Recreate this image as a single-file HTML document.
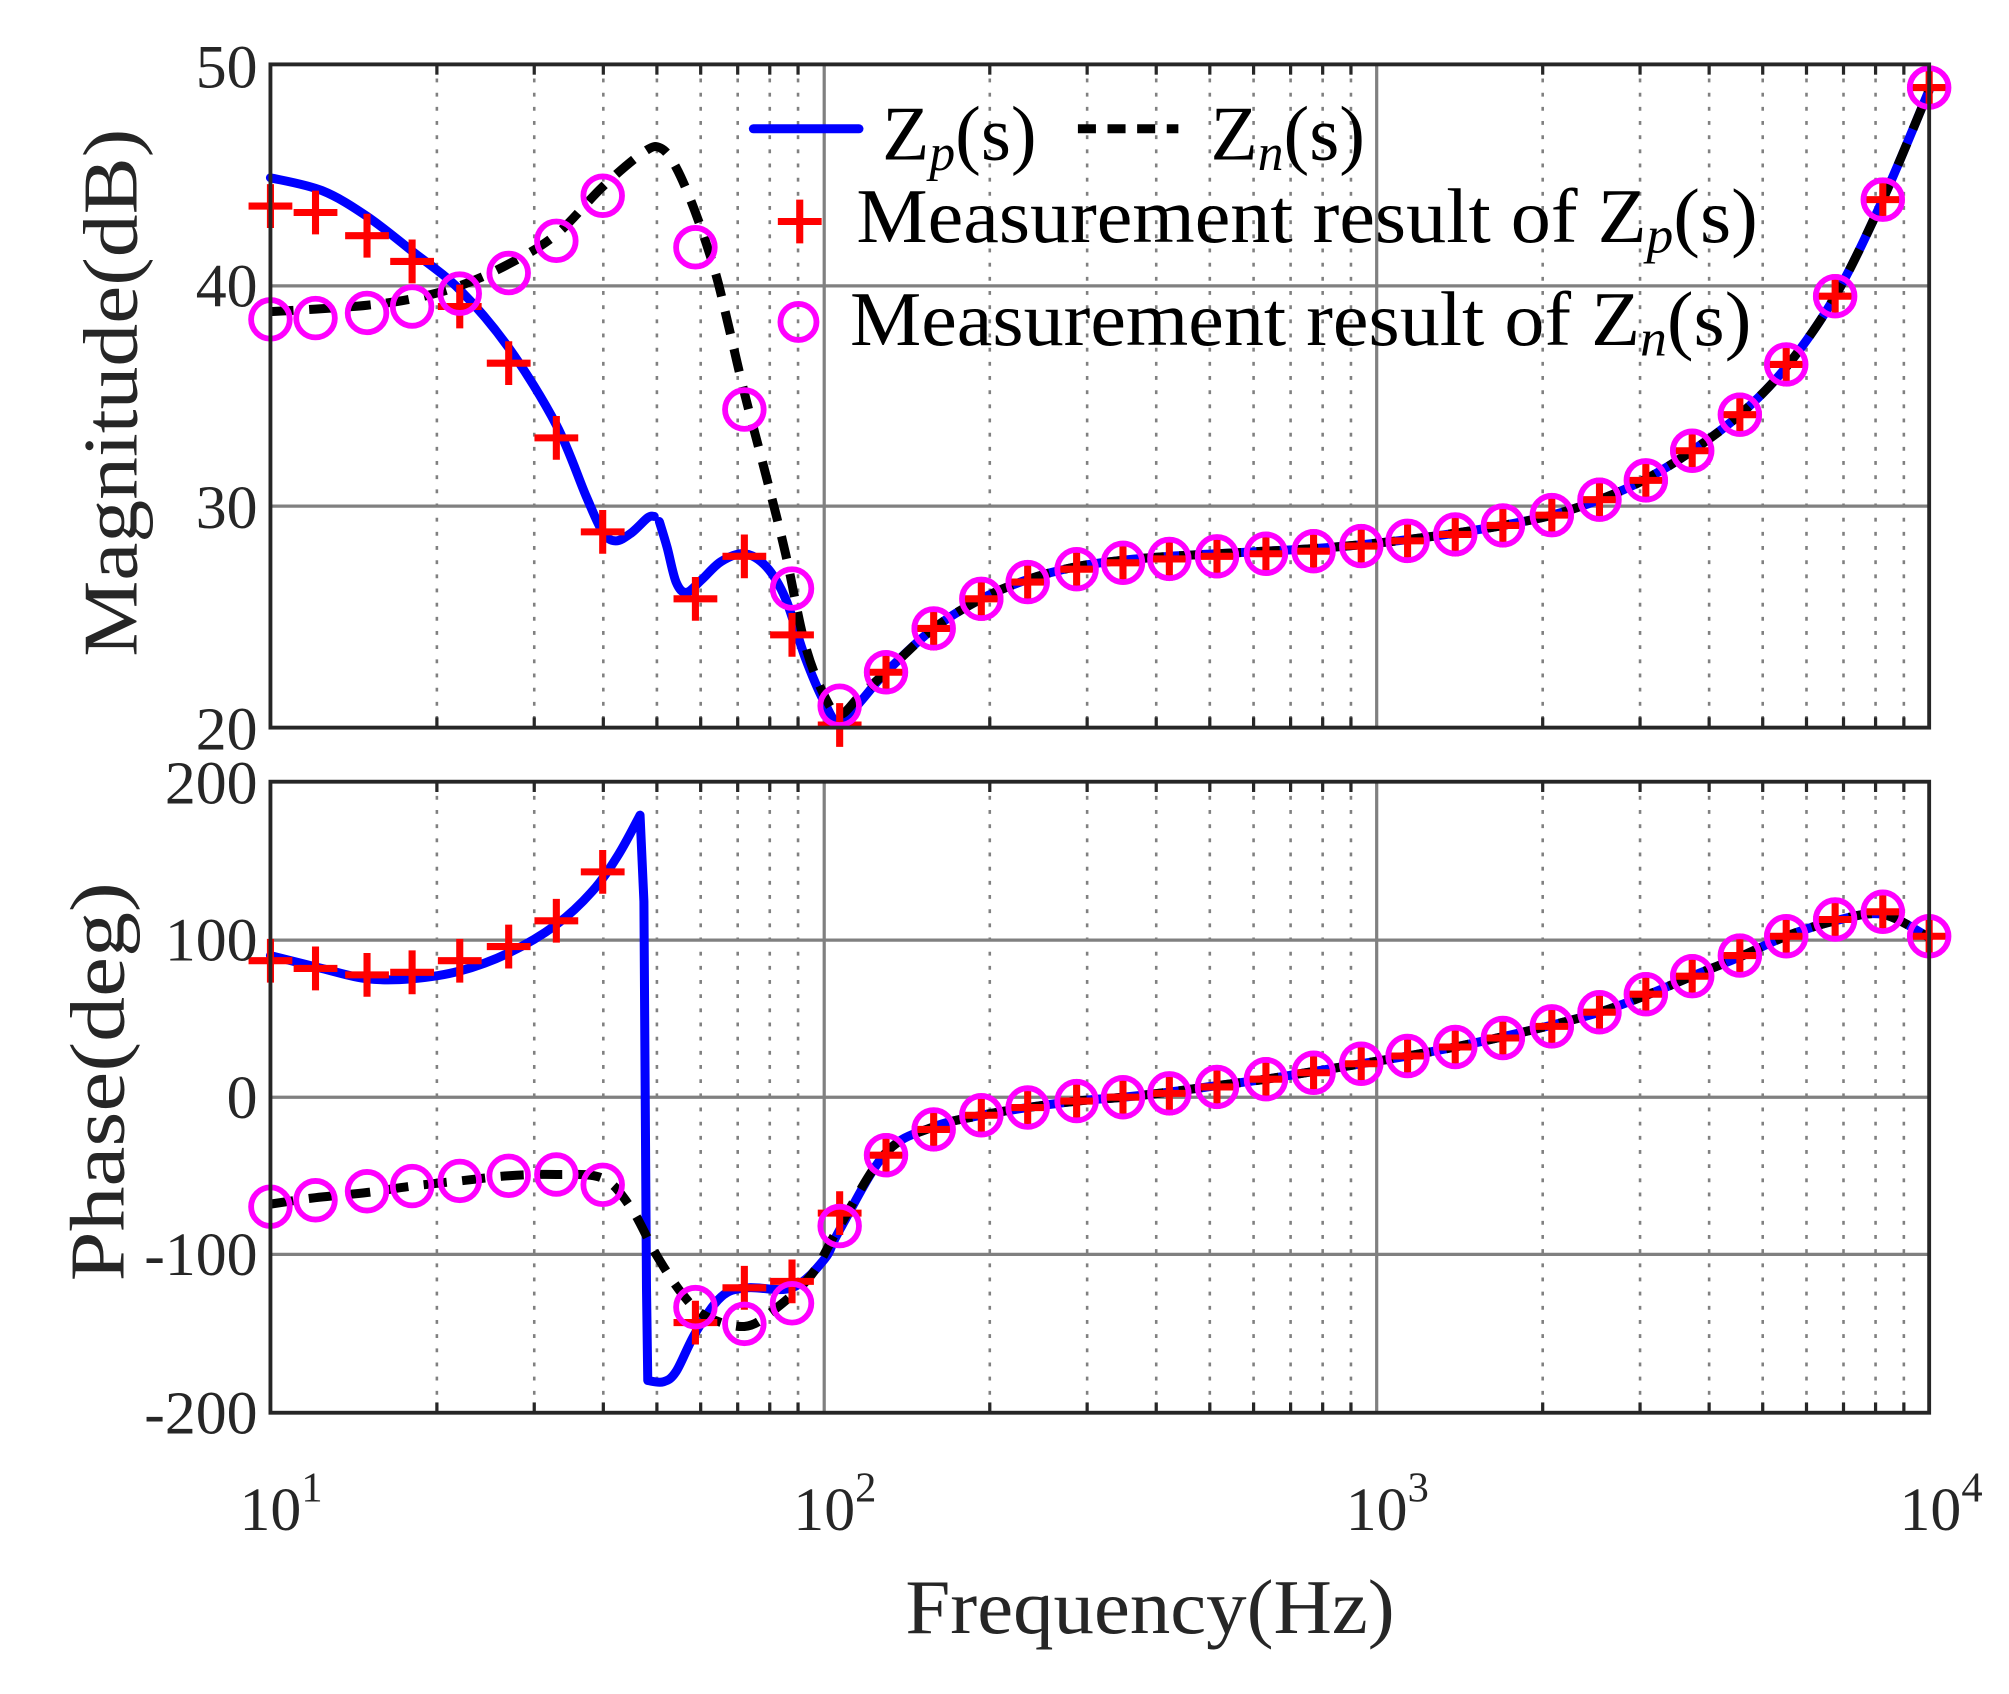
<!DOCTYPE html>
<html><head><meta charset="utf-8"><style>html,body{margin:0;padding:0;background:#fff}svg{display:block}</style></head>
<body>
<svg id="s" width="2009" height="1694" viewBox="0 0 1560 1315.4" xmlns="http://www.w3.org/2000/svg" font-family="'Liberation Serif',serif">
<rect width="1560" height="1316" fill="#fff"/>
<g id="grid"></g>
<g id="curves"></g>
<g id="frame" fill="none" stroke="#262626" stroke-width="3">
<rect x="210" y="50" width="1288" height="515"/>
<rect x="210" y="607" width="1288" height="490"/>
</g>
<g fill="#262626" font-size="48" text-anchor="end">
<text x="200" y="68">50</text><text x="200" y="238">40</text><text x="200" y="410">30</text><text x="200" y="582">20</text>
<text x="200" y="624">200</text><text x="200" y="746">100</text><text x="200" y="868">0</text><text x="200" y="990">-100</text><text x="200" y="1113">-200</text>
</g>
<g fill="#262626" font-size="48">
<text x="186" y="1188">10<tspan dy="-22" font-size="33">1</tspan></text>
<text x="616" y="1188">10<tspan dy="-22" font-size="33">2</tspan></text>
<text x="1045" y="1188">10<tspan dy="-22" font-size="33">3</tspan></text>
<text x="1475" y="1188">10<tspan dy="-22" font-size="33">4</tspan></text>
</g>
<text x="893" y="1268" font-size="60" fill="#262626" text-anchor="middle" textLength="380" lengthAdjust="spacingAndGlyphs">Frequency(Hz)</text>
<text transform="translate(106,305) rotate(-90)" font-size="60" fill="#262626" text-anchor="middle" textLength="410" lengthAdjust="spacingAndGlyphs">Magnitude(dB)</text>
<text transform="translate(96,840) rotate(-90)" font-size="60" fill="#262626" text-anchor="middle" textLength="310" lengthAdjust="spacingAndGlyphs">Phase(deg)</text>
<g id="legend">
<line x1="585" y1="100" x2="667" y2="100" stroke="#0000ff" stroke-width="7" stroke-linecap="round"/>
<line x1="837" y1="100" x2="915" y2="100" stroke="#000" stroke-width="7" stroke-dasharray="14,9"/>
<text x="685" y="124" font-size="60" fill="#000">Z<tspan font-style="italic" font-size="40" dy="8">p</tspan><tspan dy="-8">(s)</tspan></text>
<text x="940" y="124" font-size="60" fill="#000">Z<tspan font-style="italic" font-size="40" dy="8">n</tspan><tspan dy="-8">(s)</tspan></text>
<g stroke="#ff0000" stroke-width="5.5"><line x1="604" y1="172" x2="638" y2="172"/><line x1="621" y1="155" x2="621" y2="189"/></g>
<circle cx="620" cy="250" r="14" fill="none" stroke="#ff00ff" stroke-width="4.5"/>
<text x="665" y="188" font-size="60" fill="#000" textLength="700" lengthAdjust="spacingAndGlyphs">Measurement result of Z<tspan font-style="italic" font-size="40" dy="8">p</tspan><tspan dy="-8">(s)</tspan></text>
<text x="660" y="268" font-size="60" fill="#000" textLength="700" lengthAdjust="spacingAndGlyphs">Measurement result of Z<tspan font-style="italic" font-size="40" dy="8">n</tspan><tspan dy="-8">(s)</tspan></text>
</g>
</svg>
<script>
var NS="http://www.w3.org/2000/svg";
function el(p,t,a){var e=document.createElementNS(NS,t);for(var k in a)e.setAttribute(k,a[k]);p.appendChild(e);return e;}
var g=document.getElementById('grid');
var L=210,R=1498,D=(R-L)/3;
[[50,565],[607,1097]].forEach(function(p){
 for(var d=0;d<3;d++){for(var m=2;m<=9;m++){var x=L+D*(d+Math.log10(m));
  el(g,'line',{x1:x,y1:p[0],x2:x,y2:p[1],stroke:'#808080','stroke-width':2,'stroke-dasharray':'3,8'});
  el(g,'line',{x1:x,y1:p[1],x2:x,y2:p[1]-8,stroke:'#262626','stroke-width':2.5});
  el(g,'line',{x1:x,y1:p[0],x2:x,y2:p[0]+8,stroke:'#262626','stroke-width':2.5});}}
 [640,1069].forEach(function(x){el(g,'line',{x1:x,y1:p[0],x2:x,y2:p[1],stroke:'#808080','stroke-width':2.5});});
});
[222,393,730,852,974].forEach(function(y){el(g,'line',{x1:L,y1:y,x2:R,y2:y,stroke:'#808080','stroke-width':2.5});});
function path(pts){var d='M'+pts[0][0]+','+pts[0][1];
 for(var i=0;i<pts.length-1;i++){var p0=pts[Math.max(0,i-1)],p1=pts[i],p2=pts[i+1],p3=pts[Math.min(pts.length-1,i+2)];
  var c1=[p1[0]+(p2[0]-p0[0])/6,p1[1]+(p2[1]-p0[1])/6],c2=[p2[0]-(p3[0]-p1[0])/6,p2[1]-(p3[1]-p1[1])/6];
  d+=' C'+c1+' '+c2+' '+p2;}return d;}
var tailM=[[688,522],[725,488],[762,465],[798,450],[836,440],[872,435],[908,432],[945,430],[983,428],[1020,426],[1057,423],[1093,419],[1130,414],[1167,408],[1205,400],[1242,388],[1278,372],[1314,350],[1351,322],[1387,285],[1425,230],[1462,155],[1498,70]];
var blueM=[[210,138],[250,148],[285,168],[320,195],[357,225],[395,270],[432,330],[455,385],[468,413],[478,420],[490,414],[503,402],[508,401]];
var blueM2=[[512,405],[518,425],[525,452],[533,460],[545,450],[560,436],[578,430],[595,440],[610,465],[625,510],[640,545],[652,562],[668,545]].concat(tailM);
var blackM=[[210,242],[245,240],[285,237],[320,232],[357,222],[395,205],[432,182],[468,145],[500,118],[513,115],[525,130],[540,165],[555,210],[565,250],[578,305],[595,370],[610,430],[625,500],[640,540],[652,555],[668,540]].concat(tailM);
var tailP=[[688,895],[725,875],[762,866],[798,860],[836,855],[872,852],[908,848],[945,843],[983,838],[1020,832],[1057,826],[1093,820],[1130,813],[1167,805],[1205,796],[1242,786],[1278,773],[1314,758],[1351,743],[1387,727],[1425,715],[1462,710],[1498,728]];
var blueP1=[[210,742],[250,752],[285,760],[320,760],[357,754],[395,740],[432,718],[460,692],[480,664],[497,633]];
var blueP2=[[503,1072],[515,1073],[525,1065],[540,1035],[560,1007],[580,1000],[615,1000],[640,978],[652,955]].concat(tailP);
var blackP=[[210,935],[245,930],[285,926],[320,921],[357,917],[395,913],[432,912],[468,915],[490,938],[510,975],[530,1005],[548,1022],[578,1030],[600,1018],[630,990],[652,952]].concat(tailP);
var c=document.getElementById('curves');
function bl(d){el(c,'path',{d:d,fill:'none',stroke:'#0000ff','stroke-width':7,'stroke-linejoin':'round','stroke-linecap':'round'});}
bl(path(blueM));bl(path(blueM2));
bl(path(blueP1)+' L500,700 L502,1000 L503,1072 '+path(blueP2).replace(/^M[^ ]+/,''));
function bk(d){el(c,'path',{d:d,fill:'none',stroke:'#000','stroke-width':7,'stroke-dasharray':'18,12'});}
bk(path(blackM));bk(path(blackP));
var tailPlusM=[[688,522],[725,488],[762,465],[798,452],[836,442],[872,437],[908,434],[945,432],[983,430],[1020,428],[1057,424],[1093,420],[1130,415],[1167,408],[1205,400],[1242,388],[1278,373],[1314,350],[1351,322],[1387,283],[1425,230],[1462,155],[1498,68]];
var plusM=[[210,160],[245,165],[285,183],[320,203],[357,238],[395,282],[432,340],[468,413],[540,465],[578,432],[615,493],[652,563]].concat(tailPlusM);
var circM=[[210,248],[245,247],[285,243],[320,238],[357,228],[395,212],[432,187],[468,152],[540,192],[578,318],[615,457],[652,548]].concat(tailPlusM);
var tailPlusP=[[688,897],[725,877],[762,866],[798,860],[836,855],[872,852],[908,849],[945,844],[983,838],[1020,833],[1057,826],[1093,820],[1130,813],[1167,806],[1205,797],[1242,786],[1278,772],[1314,758],[1351,742],[1387,727],[1425,714],[1462,708],[1498,727]];
var plusP=[[210,746],[245,752],[285,757],[320,755],[357,746],[395,735],[432,715],[468,677],[540,1027],[578,1000],[615,995],[652,942]].concat(tailPlusP);
var circP=[[210,937],[245,932],[285,925],[320,921],[357,917],[395,913],[432,912],[468,920],[540,1015],[578,1028],[615,1012],[652,952]].concat(tailPlusP);
function plus(p){p.forEach(function(q){el(c,'line',{x1:q[0]-17,y1:q[1],x2:q[0]+17,y2:q[1],stroke:'#ff0000','stroke-width':5.5});el(c,'line',{x1:q[0],y1:q[1]-17,x2:q[0],y2:q[1]+17,stroke:'#ff0000','stroke-width':5.5});});}
function circ(p){p.forEach(function(q){el(c,'circle',{cx:q[0],cy:q[1],r:15,fill:'none',stroke:'#ff00ff','stroke-width':4.5});});}
plus(plusM);circ(circM);plus(plusP);circ(circP);
</script>
</body></html>
